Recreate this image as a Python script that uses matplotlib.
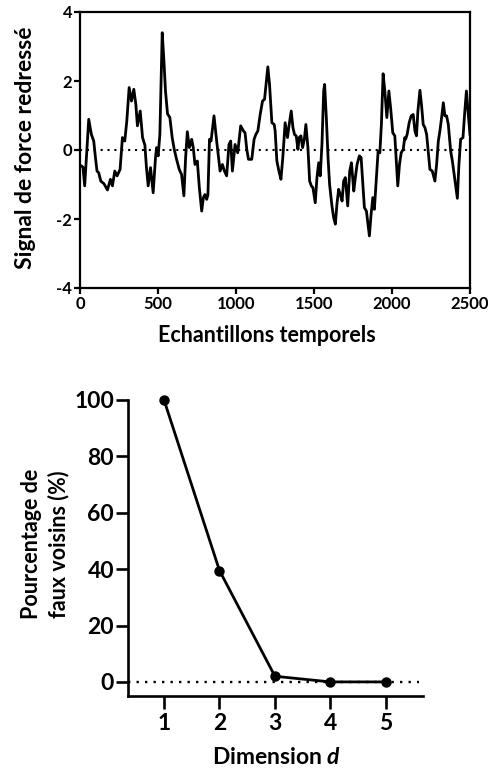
import matplotlib
matplotlib.use("Agg")
import matplotlib.pyplot as plt
import numpy as np

plt.rcParams['font.family'] = ['Lato', 'DejaVu Sans']
plt.rcParams['font.weight'] = 'bold'
plt.rcParams['mathtext.fontset'] = 'custom'
plt.rcParams['mathtext.it'] = 'Lato:bold:italic'
plt.rcParams['mathtext.rm'] = 'Lato:bold'

# ---- Top panel data: signal (sample index, value) ----
samples = [0, 9, 19, 30, 41, 56, 73, 88, 99, 109, 120, 133, 154, 176, 195, 208, 223, 238,
           257, 272, 287, 300, 315, 330, 345, 358, 368, 386, 401, 416,
           426, 437, 452, 469, 484, 491, 501, 512, 527, 538, 548, 561, 576, 591, 604,
           619, 636, 651, 666, 677, 688, 701, 716, 726, 737, 752, 765, 780, 791, 801,
           812, 820, 830, 840, 859, 876, 898, 913, 926, 940, 955, 966, 977, 994, 1011,
           1030, 1048, 1058, 1069, 1080, 1101, 1116, 1127, 1140, 1155, 1170, 1183,
           1204, 1215, 1230, 1245, 1251, 1262, 1275, 1288, 1300, 1315, 1330, 1341,
           1354, 1365, 1375, 1386, 1397, 1405, 1416, 1427, 1438, 1448, 1461, 1472,
           1483, 1493, 1508, 1519, 1530, 1540, 1551, 1562, 1568, 1579, 1590, 1600,
           1615, 1626, 1637, 1647, 1658, 1669, 1680, 1690, 1701, 1716, 1729, 1740,
           1755, 1765, 1776, 1791, 1802, 1812, 1823, 1836, 1855, 1866, 1877, 1887,
           1900, 1911, 1922, 1932, 1943, 1954, 1967, 1980, 1992, 2005, 2018, 2029,
           2037, 2048, 2059, 2072, 2082, 2087, 2097, 2110, 2123, 2136, 2147, 2157,
           2166, 2179, 2189, 2200, 2211, 2222, 2232, 2243, 2258, 2275, 2286, 2297,
           2307, 2318, 2329, 2339, 2350, 2361, 2376, 2387, 2397, 2408, 2419, 2429,
           2440, 2455, 2466, 2477, 2489, 2500]
signal = [-0.45, -0.46, -0.5, -1.04, -0.22, 0.89, 0.45, 0.26, -0.22, -0.61, -0.66, -0.9,
          -0.98, -1.16, -0.85, -1.04, -0.61, -0.75, -0.56, 0.36, 0.26, 0.84, 1.81, 1.42,
          1.76, 1.32, 0.7, 1.13, 0.36, 0.14,
          -0.51, -1.04, -0.51, -1.24, -0.22, 0.07, -0.17, 0.45, 3.4, 2.58, 1.71, 1.05,
          0.94, 0.36, 0.02, -0.27, -0.56, -0.71, -1.33, -0.22, 0.53, 0.07, 0.31, 0.07,
          -0.42, -0.32, -1.09, -1.77, -1.38, -1.29,
          -1.43, -1.3, 0.31, 0.26, 0.99, 0.26, -0.61, -0.42, -0.61, -0.75, 0.16, 0.26,
          -0.61, 0.16, -0.08, 0.7, 0.55, 0.5, 0.02, -0.27, -0.27, 0.31, 0.45, 0.55,
          1.03, 1.42, 1.47, 2.41, 1.9, 0.79, 0.74, 0.55, -0.32, -0.61, -0.85, -0.22,
          0.79, 0.36, 0.74, 1.13, 0.65, 0.45, 0.41, 0.02, 0.36, 0.41, 0.07, 0.31, 0.74,
          0.07, -0.9, -1.04, -1.09, -1.53, -0.8, -0.37, -0.75, 0.16, 1.71, 1.9, 0.94,
          -0.22, -1.0, -1.62, -1.96, -2.15, -1.57, -1.14, -1.29, -1.48, -0.9, -0.8,
          -1.62, -0.61, -0.37, -1.19, -0.8, -0.42, -0.17, -0.22, -0.9, -1.67, -1.77,
          -2.49, -1.86, -1.38, -1.72, -0.8, -0.03, -0.08, 0.74, 2.21, 1.71, 0.94, 1.71,
          1.18, 0.5, 0.41, -0.42, -1.04, -0.42, -0.08, 0.02, 0.36, 0.31, 0.45, 0.79,
          0.99, 1.03, 0.55, 0.41, 1.13, 1.73, 1.32, 0.74, 0.65, 0.45, -0.03, -0.56,
          -0.61, -0.9, -0.42, 0.26, 0.55, 0.94, 1.37, 0.99, 0.99, 0.74, -0.03, -0.32,
          -0.66, -1.04, -1.4, -0.42, 0.31, 0.36, 1.08, 1.71, 1.03, 0.45]
top_xticks = [0, 500, 1000, 1500, 2000, 2500]
top_yticks = [-4, -2, 0, 2, 4]

# ---- Bottom panel data ----
dimension = [1, 2, 3, 4, 5]
false_neighbours = [100, 39.5, 2, 0, 0]
bot_yticks = [0, 20, 40, 60, 80, 100]

W, H = 489, 771
fig = plt.figure(figsize=(W / 100, H / 100), dpi=100)

# Top axes
ax1 = fig.add_axes([80 / W, (H - 288) / H, 390 / W, 276 / H])
ax1.plot(samples, signal, color='black', lw=2.0, solid_joinstyle='round')
ax1.axhline(0, color='black', lw=1.5, linestyle=(0, (1, 2.3)))
ax1.set_xlim(0, 2500)
ax1.set_ylim(-4, 4)
ax1.set_xticks(top_xticks)
ax1.set_yticks(top_yticks)
ax1.set_xticklabels([str(v) for v in top_xticks])
ax1.set_yticklabels([str(v) for v in top_yticks])
for s in ax1.spines.values():
    s.set_linewidth(1.6)
ax1.tick_params(direction='out', length=4, width=1.6, labelsize=12, pad=1.5)
ax1.set_xlabel('Echantillons temporels', fontsize=15.5, fontweight='bold', va='center')
ax1.xaxis.set_label_coords(0.5 - 8 / 390, (288 - 336) / 276)
ax1.set_ylabel('Signal de force redressé', fontsize=16.5, fontweight='bold', va='center')
ax1.yaxis.set_label_coords((25 - 80) / 390, (288 - 148) / 276)

# Bottom axes
ax2 = fig.add_axes([128 / W, (H - 696) / H, 295 / W, 296 / H])
ax2.axhline(0, xmin=0, xmax=0.985, color='black', lw=1.7, linestyle=(0, (1, 2.6)))
ax2.plot(dimension, false_neighbours, color='black', lw=2.0, marker='o', markersize=6.5,
         clip_on=False, zorder=3)
ax2.set_xlim(0.35, 5.67)
ax2.set_ylim(-5, 100)
ax2.set_xticks(dimension)
ax2.set_yticks(bot_yticks)
ax2.spines['top'].set_visible(False)
ax2.spines['right'].set_visible(False)
ax2.spines['left'].set_linewidth(1.9)
ax2.spines['bottom'].set_linewidth(1.9)
ax2.tick_params(axis='x', direction='out', length=9, width=1.9, labelsize=16.5, pad=3)
ax2.tick_params(axis='y', direction='out', length=9, width=1.9, labelsize=16.5, pad=1)
ax2.set_xlabel('Dimension $d$', fontsize=16.5, fontweight='bold', va='center')
ax2.xaxis.set_label_coords((277 - 128) / 295, (696 - 757) / 296)
ax2.set_ylabel('Pourcentage de\nfaux voisins (%)', fontsize=15.5, fontweight='bold',
               va='center', linespacing=1.3)
ax2.yaxis.set_label_coords((45 - 128) / 295, (696 - 544) / 296)

fig.savefig('out.png', dpi=100)
